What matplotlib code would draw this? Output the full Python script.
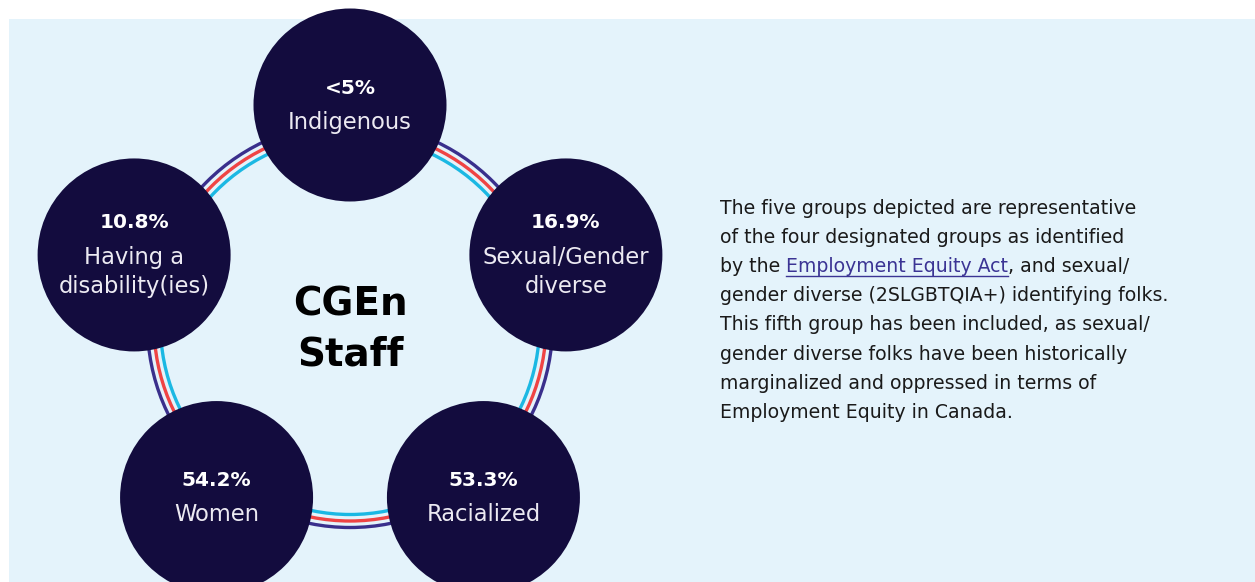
import numpy as np
import matplotlib
matplotlib.use("Agg")
import matplotlib.pyplot as plt
from matplotlib.patches import Circle, Rectangle

# ---- data ----
percentages = ["<5%", "16.9%", "53.3%", "54.2%", "10.8%"]
groups = ["Indigenous", "Sexual/Gender\ndiverse", "Racialized", "Women", "Having a\ndisability(ies)"]
center_title = ["CGEn", "Staff"]
para_before = ["The five groups depicted are representative",
               "of the four designated groups as identified"]
link_line = ["by the ", "Employment Equity Act", ", and sexual/"]
para_after = ["gender diverse (2SLGBTQIA+) identifying folks.",
              "This fifth group has been included, as sexual/",
              "gender diverse folks have been historically",
              "marginalized and oppressed in terms of",
              "Employment Equity in Canada."]

# ---- style ----
W, H = 1255, 582
DPI = 100
BG = "#E4F3FB"
NAVY = "#130C3E"
RING = ["#1BB8E3", "#EF4444", "#3A2F8C"]  # inner, middle, outer
TXT = "#1A1A1A"
LINK = "#3B3494"
FAM = ["DejaVu Sans"]

fig = plt.figure(figsize=(W / DPI, H / DPI), dpi=DPI, facecolor="white")
ax = fig.add_axes([0, 0, 1, 1])
ax.set_xlim(0, W)
ax.set_ylim(H, 0)
ax.axis("off")

ax.add_patch(Rectangle((9, 19), W - 9, H - 19, facecolor=BG, edgecolor="none", zorder=0))

# ring
cx, cy = 350, 325
ring_r = 196
for i, col in enumerate(RING):
    r = ring_r + (i - 1) * 6.5
    ax.add_patch(Circle((cx, cy), r, facecolor="none", edgecolor=col, lw=2.4, zorder=1))

# circles on a pentagon
pcx, pcy, rx, ry = 350, 322, 227, 217
angles = np.deg2rad(90 - 72 * np.arange(5))
node_r = 96.5
for k, (pct, grp) in enumerate(zip(percentages, groups)):
    x = pcx + rx * np.cos(angles[k])
    y = pcy - ry * np.sin(angles[k])
    ax.add_patch(Circle((x, y), node_r, facecolor=NAVY, edgecolor="none", zorder=2))
    nlines = grp.count("\n") + 1
    if nlines == 1:
        y_pct, y_grp = y - 17, y + 17
    else:
        y_pct, y_grp = y - 32, y + 17
    ax.text(x, y_pct, pct, ha="center", va="center", color="white", fontsize=14.5,
            fontweight="bold", family=FAM, zorder=3)
    ax.text(x, y_grp, grp, ha="center", va="center", color="#ECEAF2", fontsize=16.3,
            family=FAM, zorder=3, linespacing=1.38)

ax.text(cx, 305, center_title[0], ha="center", va="center", color="black", fontsize=28,
        fontweight="bold", family=FAM, zorder=3)
ax.text(cx, 355, center_title[1], ha="center", va="center", color="black", fontsize=28,
        fontweight="bold", family=FAM, zorder=3)

# paragraph
x0 = 720
y_start = 208
dy = 29.2
fs = 13.6
lines_all = para_before + [None] + para_after
renderer = fig.canvas.get_renderer()
inv = ax.transData.inverted()
for i, ln in enumerate(lines_all):
    y = y_start + i * dy
    if ln is not None:
        ax.text(x0, y, ln, ha="left", va="center", color=TXT, fontsize=fs, family=FAM)
    else:
        xx = x0
        for j, piece in enumerate(link_line):
            col = LINK if j == 1 else TXT
            t = ax.text(xx, y, piece, ha="left", va="center", color=col, fontsize=fs, family=FAM)
            bb = t.get_window_extent(renderer)
            (xa, _), (xb, _) = inv.transform([[bb.x0, bb.y0], [bb.x1, bb.y0]])
            if j == 1:
                ax.plot([xa, xb], [y + 10, y + 10], color=LINK, lw=1.0)
            xx = xb

fig.savefig("out.png", dpi=DPI, facecolor="white")
